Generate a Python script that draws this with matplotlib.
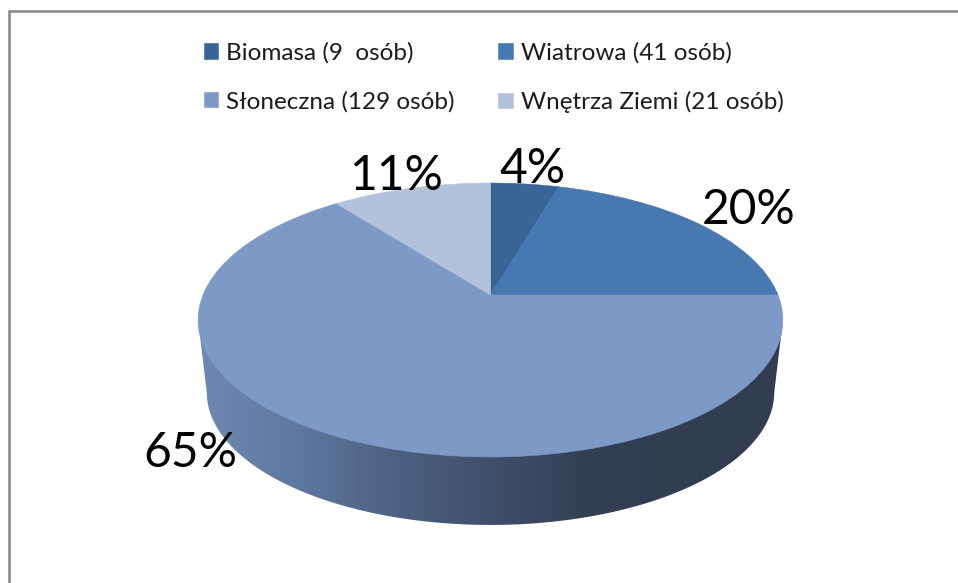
import numpy as np
import matplotlib
matplotlib.use("Agg")
import matplotlib.pyplot as plt
from matplotlib.colors import LinearSegmentedColormap
from matplotlib.patches import Polygon
from matplotlib.transforms import Transform

plt.rcParams['font.family'] = ['Lato', 'DejaVu Sans']

categories = ["Biomasa (9  osób)", "Wiatrowa (41 osób)",
              "Słoneczna (129 osób)", "Wnętrza Ziemi (21 osób)"]
people = [9, 41, 129, 21]
pct_labels = ["4%", "20%", "65%", "11%"]
slice_colors = ["#3a6496", "#4878b0", "#7d9ac7", "#b3c2dc"]
side_colors = ["#7089b3", "#5f789f", "#4d6283", "#414f6c", "#343f56", "#323d50", "#323d50"]

W, H = 958, 583
KEEL = 0.1825  # how strong the 3d tilt is


class Tilt(Transform):
    # unit circle -> pixel position of the tilted disc
    input_dims = 2
    output_dims = 2
    is_separable = False

    def __init__(self, x0, y0, bx, ay):
        super().__init__()
        self.x0, self.y0, self.bx, self.ay = x0, y0, bx, ay

    def transform_non_affine(self, values):
        values = np.asarray(values)
        d = 1 + KEEL * values[:, 1]
        return np.column_stack([self.x0 + self.bx * values[:, 0] / d,
                                self.y0 - self.ay * values[:, 1] / d])


top_disc = Tilt(490.5, 295, 287.5, 132.4)
low_disc = Tilt(490.5, 368, 279, 128.3)

fig = plt.figure(figsize=(W / 100, H / 100), dpi=100)
ax = fig.add_axes([0, 0, 1, 1])

wedges, _ = ax.pie(people, colors=slice_colors, startangle=90, counterclock=False)
for w in wedges:
    w.set_edgecolor(w.get_facecolor())
    w.set_linewidth(0.4)
    w.set_transform(top_disc + ax.transData)
    w.set_zorder(3)

# side wall of the disc, a horizontal gradient clipped to the silhouette
# the projected circle is widest at v = -KEEL
side_v = -KEEL
side_u = np.sqrt(1 - side_v ** 2)
t = np.linspace(np.pi + np.arcsin(KEEL), 2 * np.pi - np.arcsin(KEEL), 200)
arc = np.column_stack([np.cos(t), np.sin(t)])
lower = low_disc.transform(arc)
top_ends = top_disc.transform(np.array([[-side_u, side_v], [side_u, side_v]]))
outline = np.vstack([top_ends[:1], lower, top_ends[1:]])

side_cmap = LinearSegmentedColormap.from_list("side", side_colors)
grad = np.linspace(0, 1, 256).reshape(1, -1)
img = ax.imshow(grad, cmap=side_cmap, extent=(198, 782, 526, 300), aspect="auto", zorder=1)
clip = Polygon(outline, closed=True, transform=ax.transData, facecolor="none", edgecolor="none")
ax.add_patch(clip)
img.set_clip_path(clip)

ax.set_xlim(0, W)
ax.set_ylim(H, 0)
ax.set_aspect("auto")
ax.axis("off")

# chart frame, cut by the image on the right and at the bottom
ax.plot([9, 9, W + 5], [H + 5, 11, 11], color="#8c8c8c", lw=1.9,
        solid_joinstyle="miter", zorder=5)

label_x = [532, 749, 190, 396]
label_y = [169, 210, 453, 176]
for x, y, s in zip(label_x, label_y, pct_labels):
    ax.text(x, y, s, fontsize=34.5, color="black", ha="center", va="center", zorder=6)

# legend fills column by column, the picture reads row by row
order = [0, 2, 1, 3]
leg = ax.legend([wedges[i] for i in order], [categories[i] for i in order], ncol=2,
                loc="upper left", bbox_to_anchor=(204 / W, 1 - 42 / H), frameon=False,
                fontsize=17.5, handlelength=0.595, handleheight=0.595, handletextpad=0.32,
                columnspacing=1.8, labelspacing=1.12, borderpad=0, borderaxespad=0,
                labelcolor="#1c1c1c")

fig.savefig("out.png", dpi=100, facecolor="white")
